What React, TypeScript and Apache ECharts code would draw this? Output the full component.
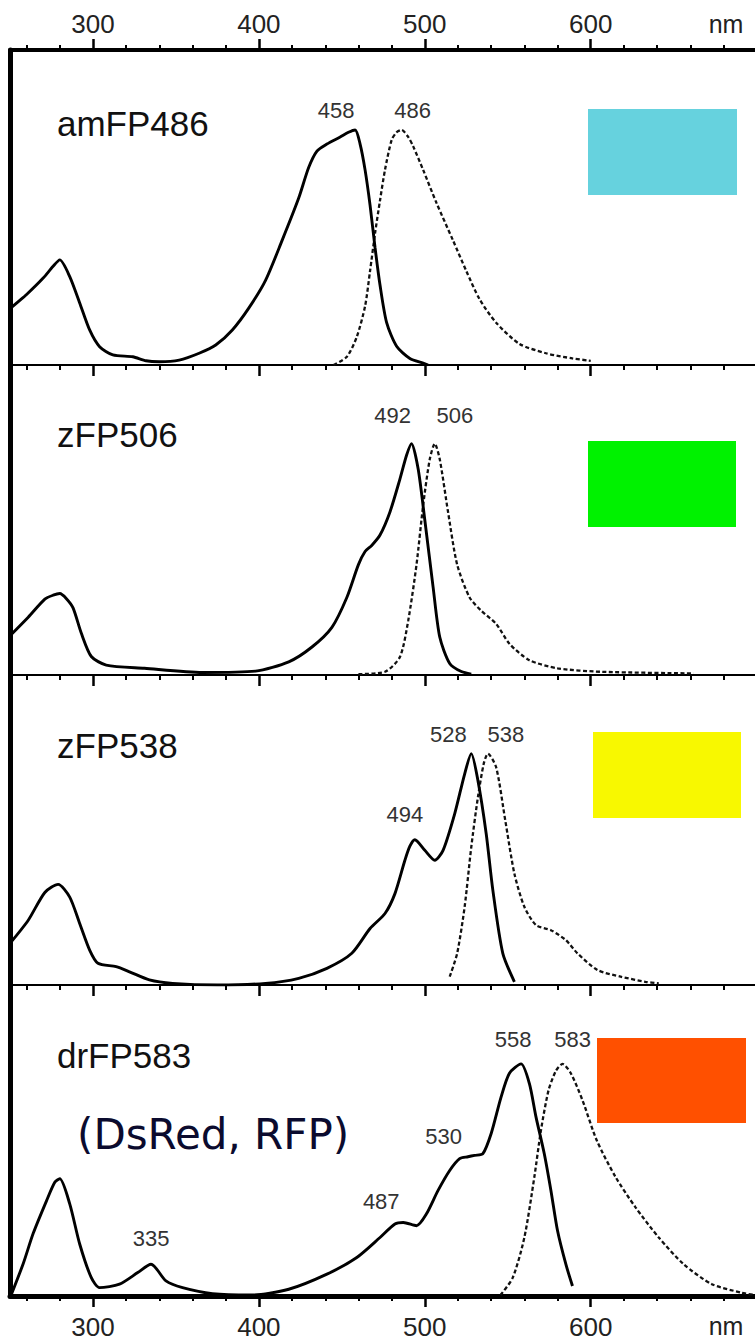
import React, { useEffect, useRef } from "react";
import * as echarts from "echarts";

// Wavelength axis (nm)
const axisMin = 250;
const axisMax = 699;
const tickLabels = [300, 400, 500, 600];
const majorTicks = [300, 400, 500, 600];
const minorTicks = [
  260, 280, 320, 340, 360, 380, 420, 440, 460, 480,
  520, 540, 560, 580, 620, 640, 660, 680,
];

// Spectra: [wavelength nm, relative intensity (peak = 100)]
const amFP486Excitation: [number, number][] = [
  [250, 24], [255, 27], [260, 30], [270, 37], [276, 42], [280, 44.7], [286, 37.6], [292, 26.4],
  [298, 14.9], [304, 7.8], [312, 4.3], [324, 3.5], [332, 1.8], [340, 1.4], [352, 2.1], [364, 5],
  [374, 8.5], [384, 14.9], [394, 24.3], [404, 36], [414, 53], [424, 71], [430, 84], [435, 91],
  [441, 94], [449, 97], [454, 99], [458, 100], [461, 94], [464, 83], [467, 68], [470, 50],
  [473, 34], [477, 18], [483, 8], [491, 2.8], [499, 0.8], [502, 0],
];
const amFP486Emission: [number, number][] = [
  [445, 0], [453, 3.5], [459, 12], [464, 25], [467, 40], [470, 56], [473, 70], [476, 83],
  [480, 95.7], [483, 99], [486, 100], [490, 97], [493, 93], [499, 83], [507, 69], [517, 53],
  [525, 40], [533, 28], [543, 18], [557, 9], [573, 5], [589, 2.8], [600, 1.8],
];

const zFP506Excitation: [number, number][] = [
  [250, 17], [261, 25], [271, 32.8], [276, 34.5], [280, 35.2], [284, 33], [288, 29], [293, 18],
  [299, 8], [308, 4.3], [331, 2.9], [366, 1.1], [398, 1.7], [418, 5.7], [432, 12.1], [444, 20.6],
  [453, 33.5], [460, 47.7], [464, 53.4], [468, 56], [473, 60.5], [479, 70.5], [485, 84.7],
  [489, 95], [492, 100], [496, 89], [500, 67], [505, 38], [509, 16.4], [515, 5], [522, 1.5],
  [528, 0.4],
];
const zFP506Emission: [number, number][] = [
  [460, 0.4], [476, 1.4], [485, 7.8], [490, 23.5], [495, 47.7], [499, 73.4], [503, 93.3],
  [506, 100], [509, 93.3], [514, 70.5], [519.5, 47.7], [527, 33.5], [534, 27.8], [543, 22.1],
  [551, 13.5], [563, 6.4], [580, 2.9], [606, 1.4], [662, 0.7],
];

const zFP538Excitation: [number, number][] = [
  [250, 18], [261, 28], [271, 40], [279, 43.5], [286, 38], [292, 26.6], [298, 15.1], [303, 9.4],
  [314, 7.9], [322, 5.7], [334, 2.2], [348, 0.7], [375, 0], [404, 0.7], [424, 2.9], [441, 7.2],
  [456, 13.7], [467, 24.4], [476, 30.9], [482, 39.5], [488, 53.9], [491, 60], [494, 62.8],
  [500, 58.2], [506, 53.9], [511, 58.2], [518, 74], [524, 91.2], [528, 100], [532, 88.4],
  [537, 65.4], [541, 41], [547, 13.7], [554, 1.4],
];
const zFP538Emission: [number, number][] = [
  [515, 3.6], [519.5, 13.7], [524, 33.8], [528, 59.6], [532, 81.2], [535.5, 95.6], [538, 100],
  [543, 94.1], [548.5, 71.1], [554, 48.1], [560, 33.8], [567, 25.9], [576, 23.7], [585, 19.4],
  [592, 13.7], [604, 6.5], [618, 3.6], [633, 1.4], [641, 0.7],
];

const drFP583Excitation: [number, number][] = [
  [251, 1], [258, 14], [264, 27], [272, 41], [277, 49], [280, 50.5], [286, 39.7], [292, 22.4],
  [299, 7.9], [304, 3.6], [316, 5.1], [327, 10.1], [335, 13.7], [344, 6.5], [354, 3.6],
  [372, 1], [395, 0.4], [418, 2.9], [441, 9.4], [459, 16.6], [473, 25.2], [482, 31], [487, 31.7],
  [495, 30.3], [501, 35.4], [508, 45.5], [515, 54.1], [521, 59.2], [526, 60], [530, 60.6],
  [535, 61.3], [540, 70], [546, 85.8], [551, 96], [558, 100], [563, 91.6], [567, 77.2],
  [572, 61.3], [576, 45.5], [580, 28.1], [585, 13.7], [589, 4.3],
];
const drFP583Emission: [number, number][] = [
  [545.6, 0.4], [553, 7.9], [560, 25.2], [566, 51.2], [570, 71.4], [574.6, 88.7], [579, 97],
  [583, 100], [588, 96], [595, 84.4], [603.6, 67.1], [615, 51.2], [627, 38.2], [641, 25.2],
  [656, 13.7], [673, 5.1], [691, 1.4], [699, 0.4],
];

// Labelled maxima / shoulders (nm)
const amFP486ExPeaks = [458];
const amFP486EmPeaks = [486];
const zFP506ExPeaks = [492];
const zFP506EmPeaks = [506];
const zFP538ExPeaks = [494, 528];
const zFP538EmPeaks = [538];
const drFP583ExPeaks = [335, 487, 530, 558];
const drFP583EmPeaks = [583];

const proteinNames = ["amFP486", "zFP506", "zFP538", "drFP583"];
const swatchColors = ["#66D2DE", "#00F200", "#F8F800", "#FF5000"];

// Layout
const panelTops = [50, 365, 675, 985];
const panelHeights = [315, 310, 310, 311];
const gridLeft = 10;
const gridRight = 0;
const yMax = 134;
const swatchRects = [
  [588, 109, 149, 86],
  [588, 441, 148, 86],
  [593, 732, 148, 86],
  [597, 1038, 149, 85],
];
const nameCenters = [123, 434, 745, 1055];
const labelOffsets: Record<number, [number, number]> = {
  458: [-19, -8], 486: [11, -8],
  492: [-19, -17], 506: [20, -17],
  494: [-10, -14], 528: [-23, -8], 538: [18, -8],
  335: [0, -15], 487: [-22, -10], 530: [-31, -8], 558: [-8, -13], 583: [10, -13],
};

const SANS = '"Liberation Sans", Arial, Helvetica, sans-serif';

function toData(points: [number, number][], peaks: number[]) {
  return points.map(([x, y]) =>
    peaks.includes(x)
      ? {
          value: [x, y],
          label: { show: true, formatter: String(x), offset: labelOffsets[x] },
        }
      : [x, y]
  );
}

export default function App() {
  const ref = useRef<HTMLDivElement>(null);

  useEffect(() => {
    if (!ref.current) return;
    const chart = echarts.init(ref.current, undefined, { renderer: "svg" });

    const spectra = [
      [amFP486Excitation, amFP486ExPeaks, amFP486Emission, amFP486EmPeaks],
      [zFP506Excitation, zFP506ExPeaks, zFP506Emission, zFP506EmPeaks],
      [zFP538Excitation, zFP538ExPeaks, zFP538Emission, zFP538EmPeaks],
      [drFP583Excitation, drFP583ExPeaks, drFP583Emission, drFP583EmPeaks],
    ] as [[number, number][], number[], [number, number][], number[]][];

    const grids = panelTops.map((top, i) => ({
      left: gridLeft,
      right: gridRight,
      top,
      height: panelHeights[i],
    }));

    const axisText = { fontSize: 26, color: "#222", fontFamily: SANS };
    const lastIndex = panelTops.length - 1;

    // Each panel edge carries two coincident axes: one for the long 100 nm
    // ticks (and the line), one for the short 20 nm ticks.
    const makeAxis = (
      gridIndex: number,
      position: "top" | "bottom",
      major: boolean,
      lineWidth: number,
      withLabels: boolean,
      margin: number
    ) => ({
      type: "value",
      gridIndex,
      min: axisMin,
      max: axisMax,
      position,
      axisLine: major
        ? { show: true, lineStyle: { color: "#000", width: lineWidth } }
        : { show: false },
      axisTick: {
        show: true,
        customValues: major ? majorTicks : minorTicks,
        length: major ? 11 : 5,
        lineStyle: { color: "#000", width: major ? 2.5 : 2 },
      },
      splitLine: { show: false },
      axisLabel:
        major && withLabels
          ? { show: true, customValues: tickLabels, margin, ...axisText }
          : { show: false },
    });

    const xAxes: any[] = [];
    panelTops.forEach((_, i) => {
      const last = i === lastIndex;
      xAxes.push(makeAxis(i, "bottom", true, last ? 5 : 2, last, 18));
      xAxes.push(makeAxis(i, "bottom", false, 0, false, 0));
    });
    xAxes.push(makeAxis(0, "top", true, 4, true, 13));
    xAxes.push(makeAxis(0, "top", false, 0, false, 0));

    // Left y axis line forms the frame's left edge
    const yAxes = panelTops.map((_, i) => ({
      type: "value",
      gridIndex: i,
      min: 0,
      max: yMax,
      position: "left",
      axisLine: { show: true, onZero: false, lineStyle: { color: "#000", width: 5 } },
      axisTick: { show: false },
      axisLabel: { show: false },
      splitLine: { show: false },
    }));

    const peakLabel = {
      position: "top",
      distance: 0,
      fontSize: 22,
      color: "#333",
      fontFamily: SANS,
    };

    const series: any[] = [];
    spectra.forEach(([ex, exPeaks, em, emPeaks], i) => {
      series.push({
        type: "line",
        xAxisIndex: i * 2,
        yAxisIndex: i,
        data: toData(ex, exPeaks),
        showSymbol: true,
        symbol: "circle",
        symbolSize: 0,
        smooth: 0.25,
        lineStyle: { color: "#000", width: 2.9 },
        itemStyle: { color: "#000" },
        label: { ...peakLabel, show: false },
        emphasis: { disabled: true },
        z: 3,
      });
      series.push({
        type: "line",
        xAxisIndex: i * 2,
        yAxisIndex: i,
        data: toData(em, emPeaks),
        showSymbol: true,
        symbol: "circle",
        symbolSize: 0,
        smooth: 0.25,
        lineStyle: { color: "#111", width: 2.3, type: [4, 2.5] },
        itemStyle: { color: "#111" },
        label: { ...peakLabel, show: false },
        emphasis: { disabled: true },
        z: 2,
      });
    });

    const graphic: any[] = [];
    swatchRects.forEach(([x, y, w, h], i) => {
      graphic.push({
        type: "rect",
        shape: { x, y, width: w, height: h },
        style: { fill: swatchColors[i] },
      });
    });
    proteinNames.forEach((name, i) => {
      graphic.push({
        type: "text",
        x: 57,
        y: nameCenters[i],
        style: {
          text: name,
          fontSize: 35,
          fontFamily: SANS,
          fill: "#111",
          align: "left",
          verticalAlign: "middle",
        },
      });
    });
    graphic.push({
      type: "text",
      x: 77,
      y: 1134,
      style: {
        text: "(DsRed, RFP)",
        fontSize: 42,
        fontFamily: '"Comic Sans MS", "DejaVu Sans", sans-serif',
        fill: "#0B0B2E",
        align: "left",
        verticalAlign: "middle",
      },
    });
    [24, 1326].forEach((y) => {
      graphic.push({
        type: "text",
        x: 726,
        y,
        style: {
          text: "nm",
          fontSize: 25,
          fontFamily: SANS,
          fill: "#222",
          align: "center",
          verticalAlign: "middle",
        },
      });
    });

    chart.setOption({
      animation: false,
      backgroundColor: "#fff",
      grid: grids,
      xAxis: xAxes,
      yAxis: yAxes,
      series,
      graphic,
    });

    return () => chart.dispose();
  }, []);

  return (
    <div
      ref={ref}
      style={{ position: "absolute", left: 0, top: 0, width: 755, height: 1342, background: "#fff" }}
    />
  );
}
